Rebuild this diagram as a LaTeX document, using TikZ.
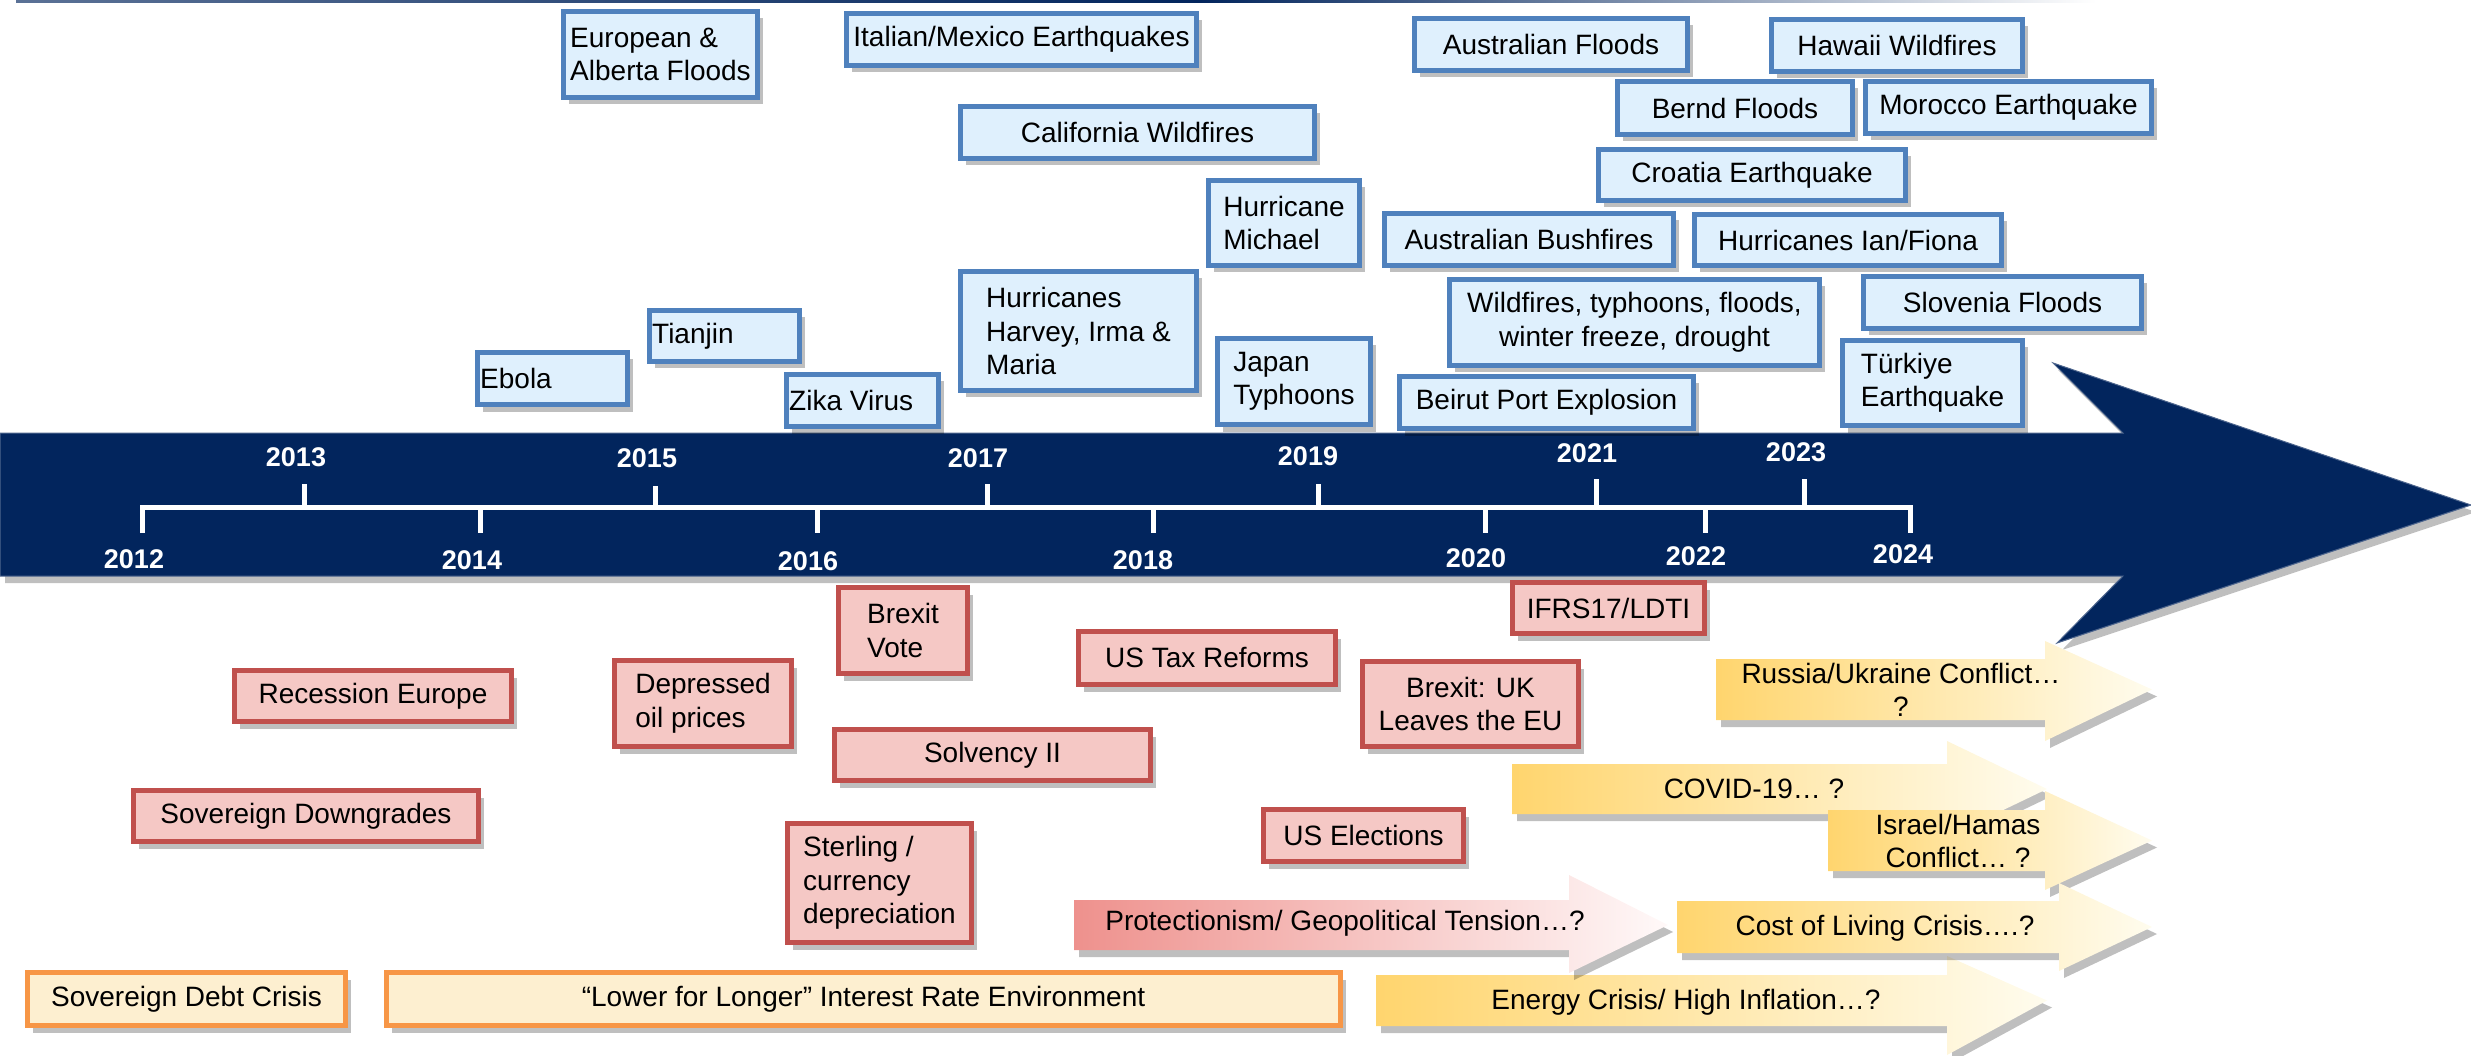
\documentclass[tikz,border=0pt]{standalone}
\usepackage{fontspec}
\setmainfont{Liberation Sans}
\usetikzlibrary{shadows}
\definecolor{navy}{RGB}{2,37,93}
\definecolor{bluebd}{RGB}{79,129,189}
\definecolor{bluefill}{RGB}{223,240,253}
\definecolor{redbd}{RGB}{192,80,77}
\definecolor{redfill}{RGB}{245,200,197}
\definecolor{orbd}{RGB}{247,150,70}
\definecolor{orfill}{RGB}{253,239,208}
\definecolor{gold}{RGB}{255,213,110}
\definecolor{creammid}{RGB}{255,243,204}
\definecolor{cream}{RGB}{255,252,238}
\definecolor{salmon}{RGB}{238,145,141}
\definecolor{salmonmid}{RGB}{247,202,200}
\definecolor{pinkwhite}{RGB}{255,249,249}
\tikzset{
  shad/.style={drop shadow={shadow xshift=5pt, shadow yshift=-7pt, opacity=0.25, fill=black}},
  base/.style={draw, line width=5pt, inner sep=2pt, text=black, shad, align=center,
    font=\fontsize{28}{33.5}\selectfont},
  bbox/.style={base, draw=bluebd, fill=bluefill},
  rbox/.style={base, draw=redbd, fill=redfill},
  obox/.style={base, draw=orbd, fill=orfill},
  txt/.style={font=\fontsize{28}{33.5}\selectfont, inner sep=0pt, align=center, text=black},
  yr/.style={text=white, font=\fontsize{27}{30}\selectfont\bfseries, inner sep=0pt},
  goldarrow/.style={left color=gold, middle color=creammid, right color=cream, shad},
  pinkarrow/.style={left color=salmon, middle color=salmonmid, right color=pinkwhite, shad},
  axisline/.style={draw=white, line width=5pt}
}
% box with centred text: style, name, x1, y1, x2, y2, text
\newcommand\bx[7]{\node[#1, minimum width={#5-#3-5}, minimum height={#6-#4-5}] (#2) at ({(#3+#5)/2},{(#4+#6)/2}) {#7};}
% box with text at its left
\newcommand\bxl[7]{\node[#1, minimum width={#5-#3-5}, minimum height={#6-#4-5}] (#2) at ({(#3+#5)/2},{(#4+#6)/2}) {};
  \node[txt, anchor=west] (#2t) at ([xshift=5pt]#2.west) {#7};}
% gradient arrow: style, x-left, body top, body bottom, head x, head top, head bottom, tip x
\newcommand\garr[8]{\path[#1] (#2,#3) -- (#5,#3) -- (#5,#6) -- (#8,{(#3+#4)/2}) -- (#5,#7) -- (#5,#4) -- (#2,#4) -- cycle;}
\begin{document}
\begin{tikzpicture}[x=1pt,y=-1pt]
\useasboundingbox (0,0) rectangle (2471,1056);
% top rule
\shade[left color=navy!65, right color=navy] (16,0) rectangle (1200,3);
\shade[left color=navy, right color=white] (1200,0) rectangle (2096,3);
% main band arrow
\path[fill=navy, draw=navy!70, line width=1pt, shad] (0,433) -- (2123,433) -- (2053,363) -- (2471,505) -- (2057,643) -- (2123,576) -- (0,576) -- cycle;
% axis
\coordinate (a12) at (142,507);
\coordinate (a24) at (1910,507);
\draw[axisline, line join=miter] ([yshift=-26pt]a12) -- (a12) -- (a24) -- ([yshift=-26pt]a24);
\foreach \x in {480,817,1153,1485,1705}{\draw[axisline] (\x,507) -- (\x,533);}
\foreach \x/\t in {304/484,655/486,987/484,1318/484,1596/479,1804/479}{\draw[axisline] (\x,507) -- (\x,\t);}
\node[yr] (y12) at (134,559) {2012};
\node[yr] (y13) at (296,457) {2013};
\node[yr] (y14) at (472,560) {2014};
\node[yr] (y15) at (647,458) {2015};
\node[yr] (y16) at (808,561) {2016};
\node[yr] (y17) at (978,458) {2017};
\node[yr] (y18) at (1143,560) {2018};
\node[yr] (y19) at (1308,456) {2019};
\node[yr] (y20) at (1476,558) {2020};
\node[yr] (y21) at (1587,453) {2021};
\node[yr] (y22) at (1696,556) {2022};
\node[yr] (y23) at (1796,452) {2023};
\node[yr] (y24) at (1903,554) {2024};
% blue event boxes
\bx{bbox, align=left}{euro}{561}{9}{760}{100}{European \&\\Alberta Floods}
\bx{bbox}{italy}{844}{11}{1199}{68}{Italian/Mexico Earthquakes}
\bx{bbox}{calif}{958}{104}{1317}{161}{California Wildfires}
\bx{bbox, align=left}{michael}{1206}{178}{1362}{268}{Hurricane\\Michael}
\bx{bbox, align=left}{harvey}{958}{269}{1199}{393}{Hurricanes\\Harvey, Irma \&\\Maria}
\bx{bbox, align=left}{japan}{1215}{336}{1373}{427}{Japan\\Typhoons}
\bxl{bbox}{ebola}{475}{350}{630}{407}{Ebola}
\bxl{bbox}{tianjin}{647}{308}{802}{364}{Tianjin}
\bxl{bbox}{zika}{784}{372}{941}{429}{Zika Virus}
\bx{bbox}{ausfl}{1412}{16}{1690}{73}{Australian Floods}
\bx{bbox}{hawaii}{1769}{17}{2025}{74}{Hawaii Wildfires}
\bx{bbox}{bernd}{1615}{79}{1855}{137}{Bernd Floods}
\bx{bbox}{morocco}{1863}{79}{2154}{136}{Morocco Earthquake}
\bx{bbox}{croatia}{1596}{147}{1908}{203}{Croatia Earthquake}
\bx{bbox}{bush}{1382}{211}{1676}{268}{Australian Bushfires}
\bx{bbox}{ian}{1692}{212}{2004}{268}{Hurricanes Ian/Fiona}
\bx{bbox}{wild}{1447}{277}{1822}{368}{Wildfires, typhoons, floods,\\winter freeze, drought}
\bx{bbox}{slovenia}{1861}{274}{2144}{331}{Slovenia Floods}
\bx{bbox}{beirut}{1397}{374}{1696}{431}{Beirut Port Explosion}
\bx{bbox, align=left}{turkiye}{1840}{338}{2025}{428}{Türkiye\\Earthquake}
% red event boxes
\bx{rbox, align=left}{brexitv}{836}{585}{970}{676}{Brexit\\Vote}
\bx{rbox}{recess}{232}{668}{514}{724}{Recession Europe}
\bx{rbox, align=left}{oil}{612}{658}{794}{749}{Depressed\\oil prices}
\bx{rbox}{ustax}{1076}{629}{1338}{687}{US Tax Reforms}
\bx{rbox}{solv}{832}{727}{1153}{783}{Solvency II}
\bx{rbox}{sovdown}{131}{788}{481}{844}{Sovereign Downgrades}
\bx{rbox, align=left}{sterling}{785}{821}{974}{945}{Sterling /\\currency\\depreciation}
\bx{rbox}{uselect}{1261}{807}{1466}{864}{US Elections}
\bx{rbox}{brexituk}{1360}{659}{1581}{749}{Brexit: UK\\Leaves the EU}
\bx{rbox}{ifrs}{1510}{580}{1707}{636}{IFRS17/LDTI}
% orange boxes
\bx{obox}{sdc}{25}{970}{348}{1028}{Sovereign Debt Crisis}
\bx{obox}{lfl}{384}{970}{1343}{1028}{“Lower for Longer” Interest Rate Environment}
% gradient arrows
\garr{goldarrow}{1716}{659}{720}{2045}{641}{741}{2152}
\node[txt] (russia) at (1901,690) {Russia/Ukraine Conflict…\\?};
\garr{goldarrow}{1512}{764}{814}{1947}{741}{837}{2047}
\node[txt] (covid) at (1754,789) {COVID-19… ?};
\garr{goldarrow}{1828}{810}{871}{2045}{791}{890}{2152}
\node[txt] (israel) at (1958,841) {Israel/Hamas\\Conflict… ?};
\garr{goldarrow}{1376}{975}{1026}{1947}{956}{1055}{2047}
\node[txt] (energy) at (1686,1002) {Energy Crisis/ High Inflation…?};
\garr{goldarrow}{1677}{901}{953}{2059}{883}{971}{2152}
\node[txt] (cost) at (1885,928) {Cost of Living Crisis….?};
\garr{pinkarrow}{1074}{900}{950}{1569}{875}{973}{1668}
\node[txt] (protect) at (1345,923) {Protectionism/ Geopolitical Tension…?};
\end{tikzpicture}
\end{document}
